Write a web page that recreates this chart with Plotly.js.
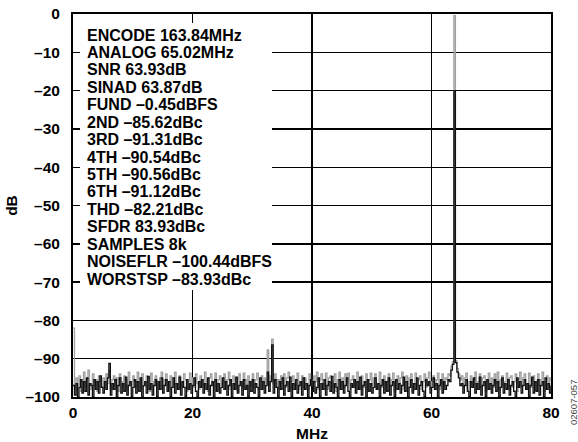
<!DOCTYPE html>
<html>
<head>
<meta charset="utf-8">
<script src="https://cdn.plot.ly/plotly-3.0.1.min.js"></script>
<style>html,body{margin:0;padding:0;background:#fff;}#chart{width:578px;height:442px;}</style>
</head>
<body>
<div id="chart"></div>
<script>
// Frequency bins: 0 to 80 MHz, 0.25 MHz spacing
var freqStartMHz = 0;
var freqStepMHz = 0.25;

// Dark trace (dB)
var darkTrace = [
-97,-99.5,-96.5,-100,-97.5,-95.5,-99,-96,-98.5,-95,-99.5,-96.5,-97,-100,-95.5,-98,-96,-99,-94.5,-97.5,
-99,-96,-98,-95,-91.2,-99.5,-96.5,-98,-95.5,-100,-97,-95,-99,-96.5,-98.5,-94.8,-99.5,-97,-96,-100,
-97.5,-95.5,-99,-96,-98.5,-95,-100,-97,-96,-99,-94.6,-98,-96.5,-99.5,-97,-95.5,-100,-96,-98,-95,
-99,-97,-95.5,-98.5,-96,-100,-97.5,-95,-99,-96.5,-98,-94.8,-99.5,-96,-97.5,-100,-95.5,-98,-96.5,-99,
-97,-95,-98.5,-100,-96,-97.5,-95.5,-99,-96.5,-98,-95,-99.5,-97,-96,-100,-95.5,-98.5,-96.5,-99,-97.5,
-95,-98,-96,-99.5,-97,-95.5,-100,-96.5,-98,-94.8,-99,-97,-96,-99.5,-95.5,-98,-97,-100,-96,-98.5,
-95.5,-99,-96.5,-97.5,-100,-95,-98,-96,-99,-97,-93.5,-98.5,-96,-86.4,-99,-95.5,-97.5,-100,-96,-98,
-95,-99.5,-97,-96,-98.5,-94.8,-100,-96.5,-98,-95.5,-99,-97,-96,-99.5,-95,-98,-96.5,-100,-97,-95.5,
-98.5,-96,-99,-97.5,-95,-100,-96.5,-98,-95.5,-99.5,-97,-96,-98.5,-94.6,-99,-96.5,-97.5,-100,-95.5,-98,
-96,-99,-97,-95,-98.5,-100,-96.5,-97.5,-95.5,-99,-96,-98,-94.8,-99.5,-97,-96,-100,-95.5,-98.5,-96.5,
-99,-97.5,-95,-98,-96.5,-100,-97,-95.5,-99,-96,-98.5,-95,-99.5,-97,-96,-100,-95.5,-98,-96.5,-99,
-97,-94.8,-98.5,-96,-100,-97.5,-95.5,-99,-96.5,-98,-95,-99.5,-97,-96,-98.5,-100,-95.5,-97,-96,-99,
-97.5,-95,-98,-96.5,-100,-97,-95.5,-99,-96,-98,-97,-95.5,-96,-93,-91.5,-20,-91,-93.5,-95,-97,
-96.5,-99,-97,-95.5,-98.5,-100,-96,-97.5,-95,-99,-96.5,-98,-94.8,-99.5,-97,-96,-100,-95.5,-98,-96.5,
-99,-97,-95.5,-98.5,-96,-100,-97.5,-95,-99,-96.5,-98,-95.5,-99.5,-97,-96,-98.5,-100,-95,-97.5,-96,
-99,-97,-95.5,-98,-96.5,-100,-97,-94.8,-99,-96,-98.5,-95.5,-99.5,-97,-96,-100,-95,-98,-96.5,-99,
-97
];

// Light (gray) trace (dB)
var lightTrace = [
-82,-98,-95,-97,-94.5,-98.5,-96,-93.5,-97.5,-95.5,-93,-96.5,-98,-94,-97,-95.5,-98.5,-94.5,-96,-97.5,
-95,-97.5,-94,-96.5,-93,-98,-95.5,-94.5,-97,-95,-98.5,-94,-96,-97.5,-94.5,-95.5,-98,-93.5,-96.5,-97,
-94.5,-96,-97.5,-93.5,-95.5,-98,-94,-96.5,-97,-94.5,-95,-98.5,-93.8,-96,-97,-94.5,-96.5,-98,-95,-93.5,
-97,-95.5,-94,-98,-96,-94.5,-97.5,-95,-93.5,-96.5,-98,-94.5,-96,-97.5,-94,-95.5,-98.5,-96,-93.8,-97,
-95,-97.5,-94,-96.5,-98,-94.5,-95.5,-97,-93.5,-96,-98.5,-95,-94,-97,-96,-93.8,-98,-95.5,-94.5,-97,
-96,-94,-97.5,-95.5,-93.5,-98,-96,-94.5,-97,-95,-98.5,-94,-96.5,-97.5,-93.8,-95.5,-98,-94.5,-96,-97,
-94,-97.5,-95.5,-93.8,-98,-96,-94.5,-97,-95,-96.5,-87.7,-97,-94.5,-84.9,-96.5,-94,-97.5,-95.5,-98,-94.5,
-96.5,-94,-97.5,-95,-93.5,-98,-96,-94.5,-97,-95.5,-93.8,-98,-96,-94.5,-97.5,-95,-96.5,-98,-94,-95.5,
-97,-94.5,-96,-93.5,-98,-95.5,-94,-97,-96.5,-93.8,-98,-95,-94.5,-97.5,-96,-94,-98.5,-95.5,-93.5,-97,
-95,-97.5,-94,-96.5,-93.8,-98,-95.5,-94.5,-97,-96,-93.5,-98,-95,-94.5,-97.5,-96,-94,-98.5,-95.5,-93.8,
-97,-95,-94,-98,-96.5,-93.5,-97.5,-95.5,-94.5,-98,-96,-94,-97,-95.5,-93.8,-98.5,-96,-94.5,-97,-95,
-93.5,-98,-96,-94.5,-97.5,-95,-94,-98.5,-96.5,-93.8,-97,-95.5,-94.5,-98,-96,-94,-97.5,-95,-93.5,-98,
-96,-94.5,-97,-95.5,-93.8,-98,-96.5,-94,-97,-95,-95.5,-94,-94.5,-92,-90.8,-0.45,-90.5,-92.5,-94,-95.5,
-94.5,-97.5,-95,-93.8,-98,-96,-94.5,-97,-95.5,-93.5,-98,-96,-94,-97.5,-95,-94.5,-98.5,-96,-93.8,-97,
-95,-97.5,-94,-96.5,-93.5,-98,-95.5,-94.5,-97,-96,-93.8,-98,-95,-94.5,-97.5,-96,-94,-98.5,-95.5,-93.5,
-97,-95,-94,-98,-96.5,-93.8,-97.5,-95.5,-94.5,-98,-96,-94,-97,-95.5,-93.5,-98.5,-96,-94.5,-97,-95,
-96
];

var xTickVals = [0, 20, 40, 60, 80];
var xTickText = ["0", "20", "40", "60", "80"];
var yTickVals = [0, -10, -20, -30, -40, -50, -60, -70, -80, -90, -100];
var yTickText = ["0", "–10", "–20", "–30", "–40", "–50", "–60", "–70", "–80", "–90", "–100"];

var statLines = [
  "ENCODE 163.84MHz",
  "ANALOG 65.02MHz",
  "SNR 63.93dB",
  "SINAD 63.87dB",
  "FUND –0.45dBFS",
  "2ND –85.62dBc",
  "3RD –91.31dBc",
  "4TH –90.54dBc",
  "5TH –90.56dBc",
  "6TH –91.12dBc",
  "THD –82.21dBc",
  "SFDR 83.93dBc",
  "SAMPLES 8k",
  "NOISEFLR –100.44dBFS",
  "WORSTSP –83.93dBc"
];

var xTitle = "MHz";
var yTitle = "dB";
var figureId = "02607-057";

function freqs(n) {
  var out = [];
  for (var i = 0; i < n; i++) out.push(freqStartMHz + i * freqStepMHz);
  return out;
}

var FONT = "Liberation Sans, Arial, Helvetica, sans-serif";
var W = 578, H = 442;
var M = {l: 73, r: 27, t: 14, b: 45};
var plotW = W - M.l - M.r, plotH = H - M.t - M.b;
function px2paperX(px) { return (px - M.l) / plotW; }
function px2paperY(py) { return 1 - (py - M.t) / plotH; }

var traces = [
  {x: freqs(lightTrace.length), y: lightTrace, type: "scatter", mode: "lines",
   line: {color: "#a0a0a0", width: 1.3, shape: "hv"}, hoverinfo: "skip"},
  {x: freqs(darkTrace.length), y: darkTrace, type: "scatter", mode: "lines",
   line: {color: "#111111", width: 1.3, shape: "hv"}, hoverinfo: "skip"}
];

var annotations = statLines.map(function (t, i) {
  return {
    text: t, xref: "paper", yref: "paper",
    x: px2paperX(85), y: px2paperY(35 + i * 17.43),
    xanchor: "left", yanchor: "middle", showarrow: false, align: "left",
    font: {family: FONT, size: 16, color: "#000", weight: 700}
  };
});
annotations.push({
  text: figureId, xref: "paper", yref: "paper",
  x: px2paperX(573), y: px2paperY(403), xanchor: "center", yanchor: "middle",
  textangle: -90, showarrow: false,
  font: {family: FONT, size: 9.5, color: "#444"}
});

var axisCommon = {
  showgrid: true, gridcolor: "#000", gridwidth: 1.4,
  showline: true, mirror: true, linecolor: "#000", linewidth: 2,
  zeroline: false, ticks: "", fixedrange: true,
  tickfont: {family: FONT, size: 15.5, color: "#000", weight: 700}
};

var layout = {
  width: W, height: H, margin: M,
  paper_bgcolor: "#fff", plot_bgcolor: "#fff",
  showlegend: false,
  xaxis: Object.assign({}, axisCommon, {
    range: [0, 80], tickmode: "array", tickvals: xTickVals, ticktext: xTickText,
    ticklabelstandoff: 0,
    title: {text: xTitle, standoff: 9, font: {family: FONT, size: 15.5, color: "#000", weight: 700}}
  }),
  yaxis: Object.assign({}, axisCommon, {
    range: [-100, 0], tickmode: "array", tickvals: yTickVals, ticktext: yTickText,
    ticklabelstandoff: 8,
    title: {text: yTitle, standoff: 4, font: {family: FONT, size: 15.5, color: "#000", weight: 700}}
  }),
  shapes: [{
    type: "rect", xref: "paper", yref: "paper", layer: "above",
    x0: px2paperX(80), x1: px2paperX(272), y0: px2paperY(290), y1: px2paperY(23),
    fillcolor: "#fff", line: {width: 0}
  }],
  annotations: annotations
};

Plotly.newPlot("chart", traces, layout, {displayModeBar: false, staticPlot: true});
</script>
</body>
</html>
